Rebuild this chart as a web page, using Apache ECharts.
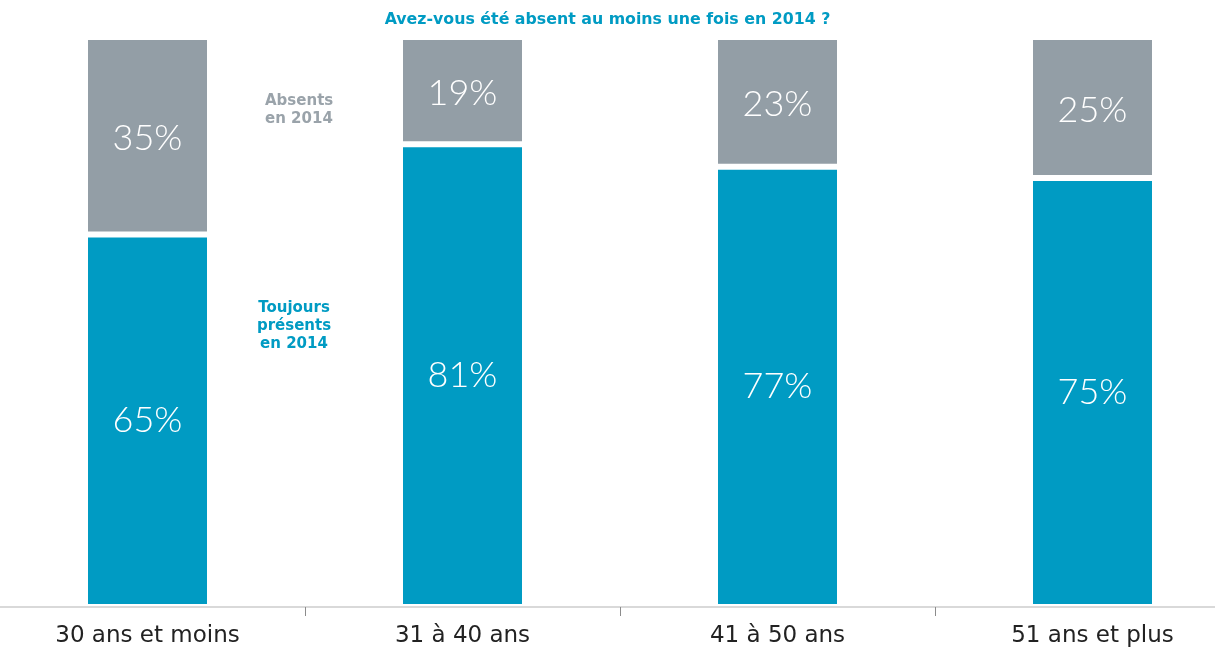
<!DOCTYPE html>
<html>
<head>
<meta charset="utf-8">
<script src="https://cdn.jsdelivr.net/npm/echarts@6/dist/echarts.min.js"></script>
<style>
  html, body { margin: 0; padding: 0; background: #fff; }
  #chart { width: 1215px; height: 647px; }
</style>
</head>
<body>
<div id="chart"></div>
<script>
// data
const categories = ['30 ans et moins', '31 à 40 ans', '41 à 50 ans', '51 ans et plus'];
const presents = [65, 81, 77, 75];   // Toujours présents en 2014
const absents = [35, 19, 23, 25];    // Absents en 2014

const blue = '#009bc3';
const grey = '#939ea6';

const chart = echarts.init(document.getElementById('chart'));

const valueLabel = {
  show: true,
  position: 'inside',
  formatter: '{c}%',
  color: '#fff',
  fontFamily: 'Lato',
  fontWeight: 300,
  fontSize: 36
};

chart.setOption({
  animation: false,
  title: {
    text: 'Avez-vous été absent au moins une fois en 2014 ?',
    left: 'center',
    top: 7,
    textStyle: { color: blue, fontFamily: 'DejaVu Sans', fontWeight: 'bold', fontSize: 15.8 }
  },
  grid: {
    left: -10, right: -35, top: 40, bottom: 43,
    outerBoundsMode: 'none'
  },
  xAxis: {
    type: 'category',
    data: categories,
    offset: 3,
    axisLine: { show: true, onZero: false, lineStyle: { color: '#d9d9d9', width: 2 } },
    axisTick: { show: true, length: 9, lineStyle: { color: '#8c8c8c', width: 1 } },
    axisLabel: { color: '#222', fontFamily: 'DejaVu Sans', fontSize: 23, margin: 18 }
  },
  yAxis: {
    type: 'value',
    min: 0,
    max: 100,
    show: false
  },
  series: [
    {
      name: 'Toujours présents en 2014',
      type: 'bar',
      stack: 'total',
      barWidth: 119,
      z: 3,
      data: presents,
      // white shadow shifted upward makes the gap between the two segments
      itemStyle: { color: blue, shadowColor: '#fff', shadowOffsetY: -6, shadowBlur: 0 },
      label: valueLabel
    },
    {
      name: 'Absents en 2014',
      type: 'bar',
      stack: 'total',
      barWidth: 119,
      z: 2,
      data: absents,
      itemStyle: { color: grey },
      label: valueLabel
    }
  ],
  graphic: [
    {
      type: 'text',
      x: 265,
      y: 92,
      style: {
        text: 'Absents\nen 2014',
        fill: '#9aa3aa',
        font: 'bold 15px "DejaVu Sans"',
        lineHeight: 18,
        align: 'left'
      }
    },
    {
      type: 'text',
      x: 294,
      y: 299,
      style: {
        text: 'Toujours\nprésents\nen 2014',
        fill: blue,
        font: 'bold 15px "DejaVu Sans"',
        lineHeight: 18,
        align: 'center'
      }
    }
  ]
});

window.addEventListener('resize', () => chart.resize());
</script>
</body>
</html>
